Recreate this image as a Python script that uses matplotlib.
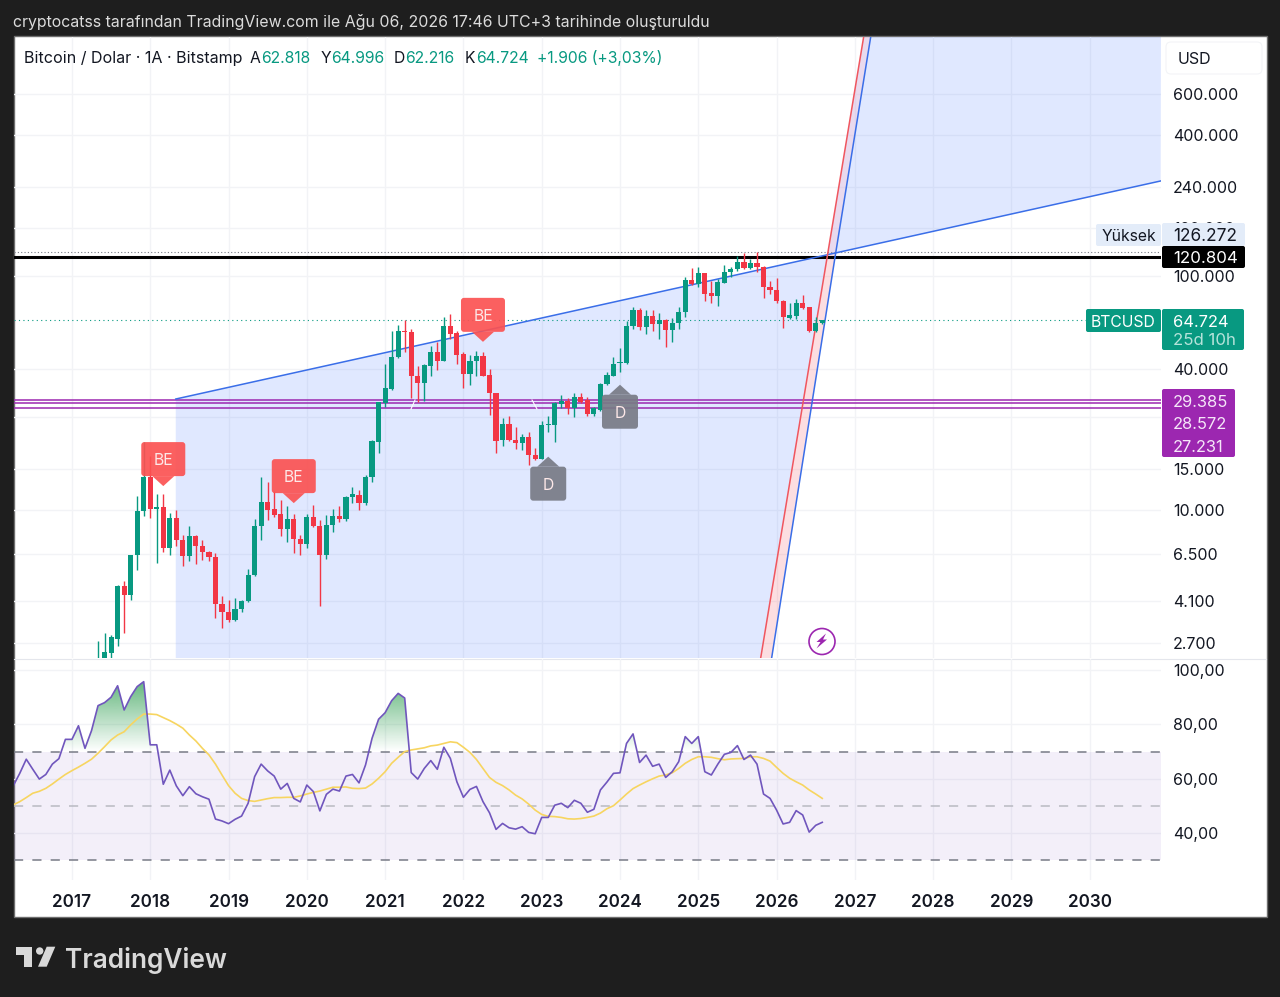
"""BTCUSD monthly chart with a fan drawing and an RSI pane below it."""
import matplotlib
matplotlib.use("Agg")
import matplotlib.pyplot as plt
import numpy as np
from matplotlib.patches import Circle, FancyBboxPatch, Polygon, Rectangle
from matplotlib.path import Path

plt.rcParams["font.family"] = ["Inter", "DejaVu Sans"]

W, H = 1280, 997
GREEN, RED, PURPLE, INK = "#089981", "#f23645", "#9c27b0", "#131722"
GRID = "#f2f3f6"

# monthly candles, May 2017 - Aug 2026
open_ = [1350, 2300, 2450, 2820, 4720, 4340, 6400, 9930,
         13900, 10070, 10300, 6850, 9240, 7440, 6370, 7730, 7000, 6620, 6280, 3960,
         3680, 3390, 3790, 4100, 5250, 8560, 10800, 10080, 9580, 8270, 9150, 7510,
         7190, 9350, 8580, 6410, 8650, 9440, 9130, 11320, 11600, 10740, 13800, 19600,
         28720, 32850, 45000, 58400, 57700, 37500, 35000, 41400, 47200, 43500, 61100, 56900,
         46400, 38200, 43200, 45600, 37800, 31700, 19900, 23300, 19900, 19300, 20500, 17200,
         16500, 23000, 23000, 28400, 29300, 27200, 30500, 29500, 25800, 26800, 34600, 37500,
         42300, 42300, 61100, 71600, 60300, 67500, 62400, 64900, 58800, 63200, 70000, 96100,
         92400, 102700, 84400, 82400, 93600, 104300, 106800, 114800, 107800, 113900, 109200, 90000,
         86800, 78400, 66300, 67200, 76500, 73500, 58200, 62818]
high = [2760, 2990, 2930, 4760, 4980, 6440, 11450, 19600,
        17000, 11750, 11700, 9730, 10000, 7810, 8520, 7810, 7440, 6700, 6530, 4280,
        4120, 4200, 4120, 5610, 9120, 13900, 13200, 12000, 11000, 10350, 9580, 7810,
        9580, 10500, 9060, 9500, 10080, 10400, 11500, 12540, 12170, 14120, 19900, 29000,
        42050, 58400, 61800, 64900, 59200, 41300, 42000, 50400, 52400, 66600, 69000, 58400,
        47500, 45900, 47800, 47500, 40000, 31700, 24700, 25300, 22700, 21200, 21500, 18350,
        24100, 25300, 29000, 31000, 30000, 31550, 31700, 30300, 27500, 34800, 38700, 45000,
        49100, 64300, 73500, 73000, 71400, 71600, 69700, 65300, 66000, 73500, 99300, 107800,
        108900, 102700, 95500, 96800, 111500, 109600, 122000, 125000, 117900, 126272, 110300, 94900,
        98400, 78970, 76500, 79700, 82700, 74000, 66600, 64996]
low = [1350, 2050, 2000, 2620, 2970, 4130, 5560, 9400,
       9250, 5950, 6630, 6440, 7000, 5780, 6080, 5890, 6120, 6080, 3470, 3120,
       3330, 3340, 3680, 4050, 5240, 7440, 9060, 9350, 7720, 7300, 6530, 6440,
       6880, 8500, 3880, 6150, 8050, 8900, 8980, 10700, 10000, 10500, 13210, 17570,
       27600, 32600, 44500, 47100, 30000, 29000, 29300, 37500, 39700, 43500, 53700, 42000,
       33150, 34200, 37300, 37500, 25500, 17570, 18700, 19760, 18200, 18000, 15600, 16400,
       16500, 21500, 19600, 27400, 25800, 24900, 28600, 25300, 25100, 26600, 34300, 37500,
       38700, 41900, 59500, 58800, 56500, 58400, 53700, 49600, 52400, 59200, 67000, 91500,
       89500, 78000, 76500, 74400, 93000, 98800, 105300, 107100, 107100, 103700, 80800, 84000,
       76500, 59800, 65500, 65700, 72600, 57800, 57800, 62216]
close = [2300, 2480, 2860, 4720, 4320, 6400, 9930, 13900,
         10130, 10280, 6850, 9240, 7440, 6370, 7730, 7000, 6620, 6270, 3960, 3680,
         3390, 3790, 4100, 5250, 8560, 10800, 10000, 9480, 8270, 9150, 7510, 7190,
         9350, 8580, 6410, 8650, 9440, 9130, 11350, 11650, 10740, 13800, 19760, 29000,
         33150, 45200, 58400, 57700, 37300, 35000, 41600, 47200, 43500, 61100, 56500, 46000,
         38200, 43200, 45600, 37500, 31500, 19700, 23400, 19850, 19400, 20500, 17100, 16500,
         23000, 23300, 28600, 29300, 27200, 30500, 29000, 25800, 27200, 34700, 37750, 42100,
         42700, 61100, 71300, 60300, 67500, 62400, 64900, 58800, 63200, 70200, 95900, 92200,
         102700, 83800, 82400, 94500, 104300, 107100, 115100, 107800, 113900, 109200, 89700, 86800,
         78200, 66800, 68000, 76500, 73000, 58200, 62800, 64724]

# RSI and its moving average, Apr 2016 - Aug 2026
rsi = [57.4, 62.0, 67.2, 63.5, 59.9, 61.6, 65.4, 67.4, 74.5,
       74.5, 79.5, 71.2, 77.7, 86.9, 88.0, 90.0, 94.2, 85.3, 90.2, 93.9, 95.7,
       72.5, 72.5, 58.0, 63.2, 57.4, 53.8, 57.1, 54.5, 53.4, 52.5, 45.2, 44.5,
       43.5, 45.1, 46.3, 51.0, 60.8, 65.4, 62.9, 61.0, 56.2, 58.3, 52.8, 51.5,
       57.7, 55.3, 48.2, 54.3, 56.2, 55.5, 61.0, 61.6, 58.5, 65.1, 74.9, 81.9,
       84.3, 88.7, 91.4, 89.7, 62.3, 59.9, 63.8, 66.7, 63.5, 71.6, 67.5, 58.9,
       53.2, 56.1, 57.2, 51.6, 47.5, 41.4, 43.6, 42.0, 41.5, 42.4, 40.3, 39.8,
       45.8, 45.8, 50.3, 51.0, 49.4, 52.1, 51.0, 47.7, 48.8, 55.9, 58.8, 62.0,
       62.2, 73.0, 76.5, 66.0, 68.7, 64.6, 65.4, 60.5, 62.6, 66.3, 75.5, 73.0,
       75.5, 62.6, 61.4, 65.4, 69.0, 69.7, 72.2, 67.1, 68.7, 65.4, 54.4, 52.8,
       48.5, 43.4, 44.0, 48.3, 46.7, 40.4, 42.9, 44.0]
rsi_ma = [50.4, 51.6, 53.1, 54.7, 55.4, 56.5, 58.1, 59.9, 61.6,
          63.0, 64.3, 65.7, 67.2, 69.4, 71.8, 74.3, 76.1, 77.3, 79.8, 82.0, 83.8,
          83.8, 83.6, 82.5, 81.4, 80.1, 78.6, 76.1, 73.9, 71.2, 68.8, 65.4, 61.4,
          57.5, 54.7, 52.8, 52.0, 51.7, 52.2, 52.7, 53.1, 53.1, 53.2, 53.2, 53.7,
          54.4, 55.0, 55.5, 56.2, 56.9, 56.9, 57.0, 56.5, 56.4, 56.6, 58.1, 60.2,
          62.6, 65.7, 67.9, 70.0, 70.6, 71.0, 71.4, 72.1, 72.4, 73.0, 73.6, 73.3,
          71.6, 69.7, 67.1, 63.8, 60.5, 58.7, 57.5, 55.9, 54.0, 52.6, 50.7, 48.5,
          46.9, 46.2, 46.1, 45.8, 45.3, 45.2, 45.4, 45.8, 46.3, 47.4, 49.0, 50.1,
          52.2, 54.4, 56.4, 57.7, 58.9, 60.0, 61.0, 61.4, 62.2, 63.8, 65.7, 67.1,
          68.1, 68.1, 67.9, 67.4, 67.0, 67.3, 67.4, 67.5, 68.1, 68.1, 67.5, 66.5,
          64.2, 62.0, 60.2, 58.9, 57.7, 55.9, 54.4, 52.8]

price_ticks = [600000, 400000, 240000, 160000, 100000, 40000, 25000, 15000, 10000, 6500, 4100, 2700]
hidden_ticks = [25000]  # sits under the purple labels
rsi_ticks = [100, 80, 60, 40]
years = list(range(2017, 2031))
hlines_purple = [29385, 28572, 27231]
hline_black = 120804
all_time_high = 126272
last_price = 64724

# drawing anchors (year, price)
fan_start = (2018.326, 29800)
fan_upper_end = (2030.906, 254700)
fan_blue = [(2025.937, 2331), (2026.755, 125400), (2027.202, 1050000)]
fan_red = [(2025.797, 2331), (2026.651, 123300), (2027.112, 1050000)]

# event balloons: year, price at the tip
be_marks = [(2018 + 2 / 12, 12650), (2019 + 10 / 12, 10700), (2022 + 3 / 12, 52300)]
d_marks = [(2023 + 1 / 12, 16900), (2024, 34300)]

assert len(open_) == len(high) == len(low) == len(close) == 112
assert len(rsi) == len(rsi_ma) == 125


def dotted(v):
    return f"{v:,}".replace(",", ".")


def pane(fig, left, top, right, bottom):
    ax = fig.add_axes([left / W, 1 - bottom / H, (right - left) / W, (bottom - top) / H])
    for s in ax.spines.values():
        s.set_visible(False)
    ax.set_xlim(XMIN, XMAX)
    ax.grid(color=GRID, lw=1)
    ax.set_axisbelow(True)
    return ax


XMIN, XMAX = 2016.26, 2030.91
fig = plt.figure(figsize=(W / 100, H / 100), dpi=100, facecolor="#1e1e1e")

# panel behind the chart
back = fig.add_axes([0, 0, 1, 1], zorder=0)
back.set_xlim(0, W); back.set_ylim(H, 0); back.axis("off")
back.add_patch(Rectangle((13.5, 36.5), 1253, 880.5, fc="white", ec="#6e6e6e", lw=1))
back.plot([14, 1266], [658.5, 658.5], color="#e4e6ec", lw=0.8)

# price pane
ax = pane(fig, 14, 37, 1161, 658)
ax.set_zorder(1); ax.patch.set_alpha(0)
ax.set_yscale("log")
ax.set_ylim(2331, 1050000)
ax.set_xticks(years); ax.tick_params(axis="x", length=0, labelbottom=False)
ax.set_yticks(price_ticks, ["" if v in hidden_ticks else dotted(v) for v in price_ticks])
ax.minorticks_off()
ax.yaxis.tick_right()
ax.tick_params(axis="y", length=0, pad=8.6, labelsize=11.5, labelcolor=INK)

# fan fills and lines
ax.add_patch(Polygon([fan_start, fan_red[1], fan_red[0], (fan_start[0], fan_red[0][1])],
                     fc="#2962ff", alpha=0.14, lw=0, zorder=1))
ax.add_patch(Polygon([fan_blue[1], fan_blue[2], (XMAX, fan_blue[2][1]), fan_upper_end],
                     fc="#2962ff", alpha=0.14, lw=0, zorder=1))
ax.add_patch(Polygon([fan_red[0], fan_red[1], fan_blue[1], fan_blue[0]],
                     fc=RED, alpha=0.16, lw=0, zorder=1))
ax.add_patch(Polygon([fan_red[1], fan_red[2], fan_blue[2], fan_blue[1]],
                     fc="#c9a3d6", alpha=0.4, lw=0, zorder=1))
ax.plot(*zip(fan_start, fan_upper_end), color="#3a6ee8", lw=1.1, zorder=3)
ax.plot(*zip(*fan_blue), color="#3a6ee8", lw=1.1, zorder=3)
ax.plot(*zip(*fan_red), color="#f0565f", lw=1.1, zorder=3)

for v in hlines_purple:
    ax.axhline(v, color=PURPLE, lw=1.1, zorder=2)
ax.axhline(hline_black, color="black", lw=2.2, zorder=2)
ax.axhline(all_time_high, color="#787b86", lw=0.8, ls=(0, (1, 2)), zorder=2)
ax.axhline(last_price, color=GREEN, lw=0.8, ls=(0, (1, 3)), zorder=2)

# candles
o, h, l, c = map(np.array, (open_, high, low, close))
cx = 2017 + 4 / 12 + np.arange(len(o)) / 12
colors = np.where(c >= o, GREEN, RED)
ax.vlines(cx, l, h, colors=colors, lw=1.0, zorder=4)
ax.bar(cx, np.abs(c - o), bottom=np.minimum(o, c), width=0.066, color=colors, lw=0, zorder=5)

# rsi pane
rx = 2016 + 3 / 12 + np.arange(len(rsi)) / 12
rsi = np.array(rsi)
ax2 = pane(fig, 14, 659, 1161, 880)
ax2.set_zorder(1); ax2.patch.set_alpha(0)
ax2.set_ylim(22.8, 104.04)
ax2.axhspan(30, 70, color="#7e57c2", alpha=0.09, lw=0, zorder=1)
for lv, col in ((70, "#787b86"), (50, "#b9bac2"), (30, "#787b86")):
    ax2.axhline(lv, color=col, lw=1.1, ls=(0, (6, 6)), zorder=2)

over = ax2.fill_between(rx, rsi, 70, where=rsi > 70, interpolate=True, color="none")
grad = np.zeros((64, 2, 4))
grad[..., :3] = matplotlib.colors.to_rgb("#2e9e50")
grad[..., 3] = np.linspace(0.85, 0, 64)[:, None]
im = ax2.imshow(grad, extent=(XMIN, XMAX, 70, 100), aspect="auto", zorder=2.5, interpolation="bilinear")
im.set_clip_path(Path.make_compound_path(*over.get_paths()), transform=ax2.transData)
ax2.set_xlim(XMIN, XMAX); ax2.set_ylim(22.8, 104.04)

ax2.plot(rx, rsi_ma, color="#f7d560", lw=1.2, zorder=3)
ax2.plot(rx, rsi, color="#7056bd", lw=1.2, zorder=4)
ax2.set_yticks(rsi_ticks, [f"{v},00" for v in rsi_ticks])
ax2.yaxis.tick_right()
ax2.tick_params(axis="y", length=0, pad=8.6, labelsize=11.5, labelcolor=INK)
ax2.set_xticks(years, [str(y) for y in years])
ax2.tick_params(axis="x", length=0, pad=9.8, labelsize=12.3, labelcolor=INK)
for t in ax2.get_xticklabels():
    t.set_fontweight("semibold")

# top layer in figure pixels
top = fig.add_axes([0, 0, 1, 1], zorder=5)
top.set_xlim(0, W); top.set_ylim(H, 0); top.axis("off")


def to_px(x, p):
    dx, dy = ax.transData.transform((x, p))
    return dx, H - dy


def text(x, y, s, color=INK, size=11.3, ha="left", **kw):
    top.text(x, y, s, color=color, fontsize=size, ha=ha, va="center_baseline", **kw)


def box(x0, y0, x1, y1, fc, r=2, ec="none", lw=0, alpha=None):
    top.add_patch(FancyBboxPatch((x0, y0), x1 - x0, y1 - y0, boxstyle=f"round,pad=0,rounding_size={r}",
                                 fc=fc, ec=ec, lw=lw, alpha=alpha))


def balloon(x, p, label, color, down):
    tx, ty = to_px(x, p)
    half = 22 if down else 18
    sign = -1 if down else 1
    near = ty + 10 * sign
    far = near + 34 * sign
    box(tx - half, min(near, far), tx + half, max(near, far), color, r=3, alpha=0.92)
    top.add_patch(Polygon([(tx - 11, near), (tx, ty), (tx + 11, near)], fc=color, lw=0, alpha=0.92))
    text(tx, (near + far) / 2, label, color="#fde8e8", ha="center")


for x, p in be_marks:
    balloon(x, p, "BE", "#fb5252", True)
for x, p in d_marks:
    balloon(x, p, "D", "#787b86", False)

# small white strokes across the purple lines
top.plot([411, 415], [409, 400], color="white", lw=0.8)
top.plot([532, 537], [400, 409], color="white", lw=0.8)

# title strip and legend row
text(13, 21, "cryptocatss tarafından TradingView.com ile Ağu 06, 2026 17:46 UTC+3 tarihinde oluşturuldu",
     color="#dcdcdc", size=11.43)
text(24, 57, "Bitcoin / Dolar · 1A · Bitstamp", size=11.55)
for x, s in ((250, "A"), (321, "Y"), (394, "D"), (465, "K")):
    text(x, 57, s)
for x, s in ((261, "62.818"), (331, "64.996"), (405, "62.216"), (476, "64.724"), (537, "+1.906 (+3,03%)")):
    text(x, 57, s, color=GREEN)

# currency chip and price labels
box(1166, 42, 1262, 74, "white", r=5, ec="#f3f4f7", lw=0.8)
text(1178, 58, "USD", size=11.5)
box(1096, 224, 1161, 246, "#e3ecf9", r=2)
text(1129, 235, "Yüksek", ha="center")
box(1162, 223, 1245, 246, "#e3ecf9", r=2)
text(1173, 234.5, dotted(all_time_high), size=12.4)
box(1162, 246, 1245, 268, "black", r=2)
text(1173, 257, dotted(hline_black), color="white", size=12.2)
box(1086, 309, 1161, 332, GREEN, r=2)
text(1091, 320.5, "BTCUSD", color="white")
box(1162, 309, 1244, 350, GREEN, r=2)
text(1173, 320.5, dotted(last_price), color="white", size=11.9)
text(1173, 339, "25d 10h", color="#b5e3da", size=12.1)
box(1162, 389, 1235, 457, PURPLE, r=2)
for y, v in zip((400.5, 423, 446), hlines_purple):
    text(1173, y, dotted(v), color="#f5e6f8", size=11.9)

# lightning icon
top.add_patch(Circle((822, 641.5), 13, fc="white", ec=PURPLE, lw=1.2))
top.add_patch(Polygon([(826, 633.5), (816.5, 642), (820.5, 642), (816.5, 648.5), (827, 639.5), (823, 639.5)],
                      fc=PURPLE, lw=0))

# logo
logo = "#d9d9d9"
top.add_patch(Polygon([(16, 946.7), (32.3, 946.7), (32.3, 966.7), (24, 966.7), (24, 954.7), (16, 954.7)], fc=logo, lw=0))
top.add_patch(Circle((39.7, 951), 3.7, fc=logo, lw=0))
top.add_patch(Polygon([(46.7, 946.7), (55.3, 946.7), (46.7, 966.7), (38, 966.7)], fc=logo, lw=0))
text(64.5, 957, "TradingView", color=logo, size=18.9, fontweight="semibold")

fig.savefig("out.png", dpi=100, facecolor=fig.get_facecolor())
plt.close(fig)
